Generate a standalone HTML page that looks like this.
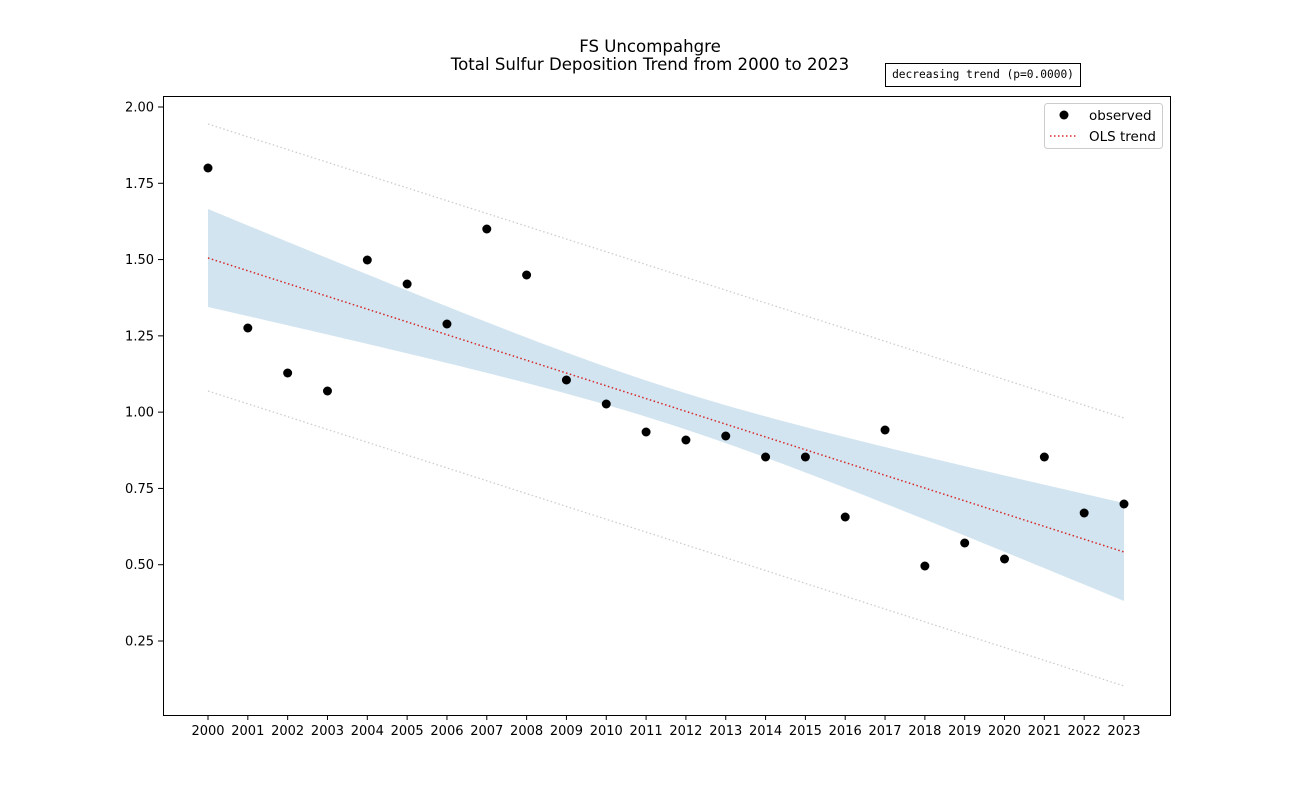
<!DOCTYPE html>
<html><head><meta charset="utf-8"><style>body{margin:0;background:#fff}svg{display:block}text{font-family:"DejaVu Sans","Liberation Sans",sans-serif}</style></head>
<body>
<svg id="s" width="1300" height="803" xmlns="http://www.w3.org/2000/svg">
<rect width="1300" height="803" fill="#fff"/>
<g id="band"></g>
<g id="lines"></g>
<g id="pts"></g>
<rect x="163.5" y="96.5" width="1007" height="619" fill="none" stroke="#000" stroke-width="1"/>
<g id="ticks" font-size="13"></g>
<text x="650" y="52" font-size="16.6" text-anchor="middle">FS Uncompahgre</text>
<text x="650" y="70" font-size="16.6" text-anchor="middle">Total Sulfur Deposition Trend from 2000 to 2023</text>
<rect x="885.5" y="63.5" width="195" height="23" fill="#fff" stroke="#000"/>
<text x="983" y="78" font-size="11.2" text-anchor="middle" style="font-family:'DejaVu Sans Mono','Liberation Mono',monospace">decreasing trend (p=0.0000)</text>
<rect x="1044.5" y="103.5" width="118" height="45" rx="3" fill="#fff" stroke="#ccc"/>
<circle cx="1064" cy="115" r="4.5" fill="#000"/>
<text x="1089" y="120" font-size="13.5">observed</text>
<line x1="1050" y1="136" x2="1078" y2="136" stroke="#d62728" stroke-width="1.5" stroke-dasharray="1.5,2.5"/>
<text x="1089" y="141" font-size="13.5">OLS trend</text>
</svg>
<script>
var ns="http://www.w3.org/2000/svg";
function X(i){return 208+i*916/23;}
function Y(v){return 107+(2-v)*305.14;}
function el(p,t,a){var e=document.createElementNS(ns,t);for(var k in a)e.setAttribute(k,a[k]);document.getElementById(p).appendChild(e);return e;}
var up=[],lo=[];
for(var i=0;i<=23;i+=0.25){var x=X(i),t=258+i*294/23,w=Math.sqrt(324+0.0099*Math.pow(x-666,2));up.push(x+","+(t-w));lo.unshift(x+","+(t+w));}
el("band","polygon",{points:up.concat(lo).join(" "),fill:"#1f77b4","fill-opacity":"0.2"});
el("lines","line",{x1:208,y1:124,x2:1124,y2:418,stroke:"#ccc","stroke-width":1.3,"stroke-dasharray":"1.5,2.5"});
el("lines","line",{x1:208,y1:391,x2:1124,y2:686,stroke:"#ccc","stroke-width":1.3,"stroke-dasharray":"1.5,2.5"});
el("lines","line",{x1:208,y1:258,x2:1124,y2:552,stroke:"#d62728","stroke-width":1.5,"stroke-dasharray":"1.5,2.5"});
var py=[168,328,373,391,260,284,324,229,275,380,404,432,440,436,457,457,517,430,566,543,559,457,513,504];
py.forEach(function(y,i){el("pts","circle",{cx:X(i),cy:y,r:4.5,fill:"#000"});});
for(var i=0;i<24;i++){var x=X(i);el("ticks","line",{x1:x,y1:715,x2:x,y2:720,stroke:"#000"});var t=el("ticks","text",{x:x,y:735,"text-anchor":"middle"});t.textContent=2000+i;}
[0.25,0.5,0.75,1,1.25,1.5,1.75,2].forEach(function(v){var y=Y(v);el("ticks","line",{x1:158,y1:y,x2:163,y2:y,stroke:"#000"});var t=el("ticks","text",{x:154,y:y+4.5,"text-anchor":"end"});t.textContent=v.toFixed(2);});
</script>
</body></html>
